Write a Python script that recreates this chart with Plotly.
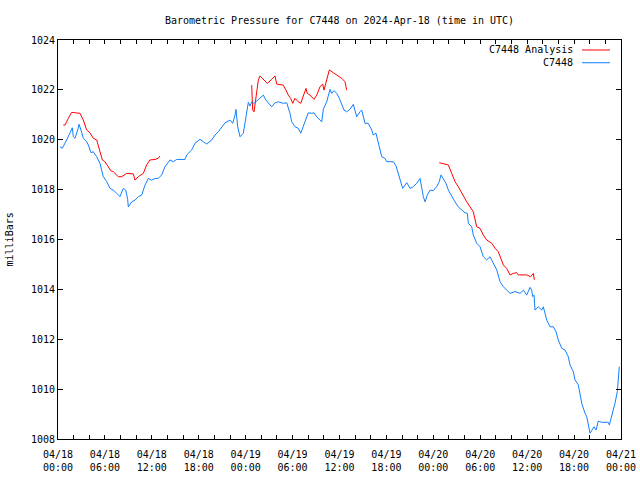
import plotly.graph_objects as go

# hours since 2024-04-18 00:00 UTC
blue_hours = [0.26, 0.55, 1.11, 1.53, 1.83, 1.96, 2.17, 2.52, 2.69, 2.94, 3.24, 3.67, 3.88, 4.22, 4.51, 4.95,
              5.37, 5.79, 6.23, 6.65, 7.07, 7.51, 7.93, 8.35, 8.66, 8.91, 8.99, 9.43, 9.85, 10.27, 10.70, 11.13,
              11.55, 11.98, 12.41, 12.83, 13.26, 13.68, 14.32, 14.75, 15.18, 15.60, 16.24, 16.46, 17.10, 17.52,
              18.16, 18.58, 19.02, 19.66, 20.08, 20.50, 20.94, 21.36, 22.00, 22.34, 22.64, 22.76, 22.98, 23.28,
              23.70, 23.92, 24.13, 24.34, 24.55, 24.77, 25.07, 25.49, 25.83, 26.26, 26.60, 26.90, 27.33, 27.75,
              28.17, 28.81, 29.25, 29.67, 29.89, 30.31, 30.73, 31.04, 31.37, 31.72, 32.01, 32.45, 32.74, 33.09,
              33.51, 33.73, 33.93, 34.36, 34.79, 35.00, 35.30, 35.64, 35.98, 36.28, 36.58, 36.92, 37.34, 37.77,
              38.20, 38.62, 38.84, 39.26, 39.68, 40.12, 40.32, 40.67, 40.84, 41.09, 41.40, 41.82, 42.04, 42.46,
              42.88, 43.23, 43.52, 43.74, 44.08, 44.60, 45.02, 45.44, 45.87, 46.30, 46.51, 46.72, 46.94, 47.23,
              47.57, 48.00, 48.43, 48.76, 48.98, 49.28, 49.62, 49.92, 50.35, 50.77, 51.19, 51.63, 52.05, 52.35,
              52.47, 52.91, 53.11, 53.55, 53.97, 54.39, 54.83, 55.25, 55.67, 56.11, 56.53, 56.95, 57.38, 57.81,
              58.45, 59.09, 59.51, 59.94, 60.36, 60.58, 60.71, 60.88, 61.00, 61.43, 61.86, 62.07, 62.28, 62.50,
              62.92, 63.34, 63.69, 63.98, 64.42, 64.84, 65.26, 65.48, 65.90, 66.12, 66.54, 66.76, 66.98, 67.40,
              67.62, 68.04, 68.26, 68.55, 68.81, 69.10, 69.53, 70.38, 70.51, 70.81, 71.23, 71.53, 71.66, 71.78]
blue_mbar = [1019.72, 1019.66, 1019.99, 1020.26, 1020.48, 1020.12, 1020.06, 1020.39, 1020.62, 1020.39, 1020.06,
             1019.92, 1019.79, 1019.48, 1019.52, 1019.32, 1019.05, 1018.52, 1018.32, 1018.05, 1017.98, 1017.85,
             1017.72, 1018.05, 1017.98, 1017.61, 1017.31, 1017.51, 1017.58, 1017.72, 1017.78, 1018.18, 1018.45,
             1018.38, 1018.45, 1018.45, 1018.59, 1018.92, 1019.19, 1019.12, 1019.21, 1019.21, 1019.21, 1019.39,
             1019.59, 1019.86, 1020.02, 1019.92, 1019.83, 1019.99, 1020.19, 1020.32, 1020.52, 1020.68, 1020.79,
             1020.66, 1020.99, 1021.22, 1020.52, 1020.12, 1020.26, 1020.66, 1021.19, 1021.50, 1021.35, 1021.52,
             1021.46, 1021.59, 1021.66, 1021.79, 1021.59, 1021.46, 1021.32, 1021.48, 1021.52, 1021.46, 1021.48,
             1021.06, 1020.72, 1020.52, 1020.46, 1020.26, 1020.52, 1020.86, 1021.08, 1021.06, 1021.08, 1020.92,
             1020.79, 1020.72, 1021.22, 1021.52, 1022.02, 1021.86, 1021.97, 1021.86, 1021.66, 1021.46, 1021.19,
             1021.12, 1021.22, 1021.42, 1020.92, 1021.12, 1021.19, 1020.66, 1020.66, 1020.39, 1020.19, 1020.26,
             1020.06, 1019.66, 1019.32, 1019.25, 1019.12, 1019.12, 1019.12, 1018.95, 1018.65, 1018.38, 1018.05,
             1018.28, 1018.05, 1018.12, 1018.25, 1018.45, 1018.05, 1017.72, 1017.51, 1017.78, 1017.98, 1017.96,
             1018.12, 1018.32, 1018.59, 1018.45, 1018.25, 1017.98, 1017.72, 1017.51, 1017.31, 1017.18, 1017.07,
             1017.05, 1016.65, 1016.51, 1016.18, 1015.85, 1015.71, 1015.31, 1015.18, 1015.31, 1015.04, 1014.78,
             1014.31, 1014.11, 1013.97, 1013.84, 1013.91, 1013.84, 1013.97, 1013.77, 1014.08, 1013.97, 1013.71,
             1013.77, 1013.17, 1013.30, 1013.17, 1013.30, 1013.04, 1012.77, 1012.50, 1012.50, 1012.30, 1011.97,
             1011.64, 1011.57, 1011.30, 1010.97, 1010.70, 1010.37, 1010.17, 1009.83, 1009.43, 1009.03, 1008.89,
             1008.23, 1008.36, 1008.49, 1008.36, 1008.72, 1008.67, 1008.67, 1008.56, 1008.89, 1009.43, 1009.90,
             1010.63, 1010.90]

# analysis series (None marks gaps)
red_hours = [0.68, 0.90, 1.32, 1.75, 2.26, 2.81, 3.24, 3.67, 4.09, 4.51, 4.95, 5.37, 5.67, 6.01, 6.43, 6.74,
             7.07, 7.71, 8.15, 8.79, 9.63, 9.85, 10.27, 10.91, 11.34, 11.77, 12.41, 12.83, 13.04, None,
             24.77, 24.90, 25.07, 25.32, 25.62, 25.83, 26.26, 26.77, 27.33, 27.75, 27.97, 28.81, 29.16, 29.45,
             29.76, 30.02, 30.31, 30.73, 31.04, 31.37, 31.72, 31.88, 32.23, 32.74, 33.09, 33.51, 33.85, 34.02,
             34.36, 34.70, 35.21, 35.85, 36.28, 36.70, 36.92, None,
             48.76, 49.28, 49.92, 50.35, 50.77, 51.19, 51.63, 52.27, 52.69, 53.11, 53.55, 53.97, 54.39, 54.83,
             55.47, 55.89, 56.31, 56.75, 56.95, 57.38, 57.81, 58.23, 58.66, 58.87, 59.94, 60.45, 60.79, 60.92]
red_mbar = [1020.59, 1020.59, 1020.86, 1021.10, 1021.08, 1021.06, 1020.79, 1020.39, 1020.28, 1020.06, 1019.99,
            1019.52, 1019.19, 1019.12, 1018.92, 1018.76, 1018.72, 1018.52, 1018.52, 1018.65, 1018.63, 1018.38,
            1018.52, 1018.65, 1018.99, 1019.19, 1019.21, 1019.26, 1019.35, None,
            1022.19, 1021.19, 1021.12, 1021.72, 1022.39, 1022.56, 1022.42, 1022.26, 1022.42, 1022.56, 1022.23,
            1022.19, 1021.99, 1021.79, 1021.66, 1021.46, 1021.66, 1021.52, 1021.46, 1021.72, 1022.06, 1021.86,
            1021.79, 1021.62, 1021.79, 1022.13, 1022.23, 1021.99, 1022.39, 1022.80, 1022.69, 1022.56, 1022.46,
            1022.33, 1021.99, None,
            1019.08, 1019.05, 1018.99, 1018.65, 1018.32, 1018.12, 1017.85, 1017.51, 1017.31, 1017.11, 1016.51,
            1016.45, 1016.18, 1015.98, 1015.85, 1015.65, 1015.51, 1015.18, 1014.98, 1014.84, 1014.58, 1014.64,
            1014.67, 1014.58, 1014.58, 1014.51, 1014.64, 1014.38]

x_tick_hours = list(range(0, 73, 2))
x_tick_labels = ["04/18<br>00:00", "", "", "04/18<br>06:00", "", "", "04/18<br>12:00", "", "",
                 "04/18<br>18:00", "", "", "04/19<br>00:00", "", "", "04/19<br>06:00", "", "",
                 "04/19<br>12:00", "", "", "04/19<br>18:00", "", "", "04/20<br>00:00", "", "",
                 "04/20<br>06:00", "", "", "04/20<br>12:00", "", "", "04/20<br>18:00", "", "",
                 "04/21<br>00:00"]
y_ticks = [1008, 1010, 1012, 1014, 1016, 1018, 1020, 1022, 1024]

RED = "#ff0000"
BLUE = "#1080ff"
FONT = "DejaVu Sans Mono"

fig = go.Figure()
fig.add_trace(go.Scatter(x=red_hours, y=red_mbar, mode="lines", name="C7448 Analysis",
                         line=dict(color=RED, width=1), connectgaps=False))
fig.add_trace(go.Scatter(x=blue_hours, y=blue_mbar, mode="lines", name="C7448",
                         line=dict(color=BLUE, width=1)))

fig.update_layout(
    width=640, height=480,
    margin=dict(l=58, r=19, t=40, b=41, autoexpand=False),
    paper_bgcolor="white", plot_bgcolor="white",
    font=dict(family=FONT, size=10, color="black"),
    showlegend=False,
    title=dict(text="Barometric Pressure for C7448 on 2024-Apr-18 (time in UTC)",
               x=0.5, xref="paper", xanchor="center", y=1 - 20 / 480, yref="container",
               yanchor="middle",
               font=dict(family=FONT, size=10, color="black")),
)
fig.update_xaxes(range=[0, 72], tickmode="array", tickvals=x_tick_hours, ticktext=x_tick_labels,
                 ticks="inside", ticklen=4, tickcolor="black", showline=True, linecolor="black",
                 linewidth=1, mirror="ticks", showgrid=False, zeroline=False, ticklabelstandoff=6,
                 automargin=False)
fig.update_yaxes(range=[1008, 1024], tickmode="array", tickvals=y_ticks,
                 ticks="inside", ticklen=5, tickcolor="black", showline=True, linecolor="black",
                 linewidth=1, mirror="ticks", showgrid=False, zeroline=False, automargin=False)

fig.add_annotation(text="milliBars", textangle=-90, xref="paper", yref="paper",
                   x=-0.0853, y=0.5, xanchor="center", yanchor="middle", showarrow=False,
                   font=dict(family=FONT, size=10, color="black"))

# legend (gnuplot style: text then line sample)
legend_rows = [("C7448 Analysis", RED, 0.975), ("C7448", BLUE, 0.943)]
for label, col, yy in legend_rows:
    fig.add_annotation(text=label, xref="paper", yref="paper", x=0.918, y=yy,
                       xanchor="right", yanchor="middle", showarrow=False,
                       font=dict(family=FONT, size=10, color="black"))
    fig.add_shape(type="line", xref="paper", yref="paper", x0=0.9307, x1=0.9805, y0=yy, y1=yy,
                  line=dict(color=col, width=1))

# remove the default 8px page margin so the 640x480 figure fills the window exactly
fig.write_html("out.html", config={"displayModeBar": False},
               post_script="document.body.style.margin='0';")
